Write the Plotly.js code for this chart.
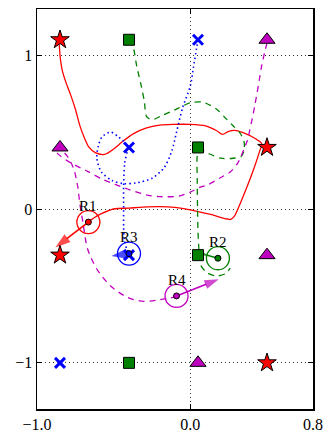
<!DOCTYPE html>
<html>
<head>
<meta charset="utf-8">
<script src="https://cdn.plot.ly/plotly-3.0.1.min.js"></script>
<style>html,body{margin:0;padding:0;background:#fff;}#chart{width:334px;height:441px;}</style>
</head>
<body>
<div id="chart"></div>
<script>
// ---- target markers ----
const starX = [-0.85, -0.85, 0.5, 0.5];
const starY = [1.1, -0.3, 0.4, -1.0];
const squareX = [-0.4, 0.05, 0.05, -0.4];
const squareY = [1.1, 0.4, -0.3, -1.0];
const crossX = [0.05, -0.4, -0.4, -0.85];
const crossY = [1.1, 0.4, -0.3, -1.0];
const triX = [0.5, -0.85, 0.5, 0.05];
const triY = [1.1, 0.4, -0.3, -1.0];

// ---- robot trajectories ----
const redPathX = [-0.855,-0.848,-0.835,-0.81,-0.78,-0.75,-0.72,-0.69,-0.66,-0.62,-0.56,-0.5,-0.44,-0.37,-0.29,-0.2,-0.11,0.0,0.1,0.17,0.21,0.25,0.3,0.36,0.42,0.465,0.45,0.41,0.36,0.31,0.285,0.262,0.24,0.125,0.0,-0.1,-0.2,-0.31,-0.4,-0.5,-0.58,-0.63,-0.665];
const redPathY = [1.07,0.98,0.9,0.82,0.74,0.65,0.54,0.46,0.4,0.366,0.355,0.39,0.44,0.49,0.525,0.545,0.55,0.55,0.54,0.51,0.485,0.505,0.51,0.49,0.46,0.425,0.37,0.25,0.12,0.0,-0.05,-0.068,-0.065,-0.034,-0.005,0.01,0.015,0.012,0.006,0.0,-0.03,-0.058,-0.085];

const bluePathX = [0.05,0.04,0.02,0.0,-0.05,-0.09,-0.12,-0.17,-0.25,-0.35,-0.435,-0.51,-0.58,-0.61,-0.6,-0.575,-0.52,-0.47,-0.435,-0.41,-0.428,-0.435,-0.435,-0.435,-0.43,-0.415,-0.4];
const bluePathY = [1.1,1.04,0.92,0.8,0.66,0.5,0.38,0.27,0.2,0.17,0.165,0.185,0.24,0.33,0.41,0.47,0.5,0.47,0.44,0.4,0.3,0.15,0.0,-0.12,-0.2,-0.26,-0.29];

const greenPathX = [-0.4,-0.37,-0.35,-0.32,-0.3,-0.285,-0.25,-0.18,-0.11,0.0,0.08,0.17,0.23,0.28,0.32,0.35,0.35,0.33,0.28,0.2,0.12,0.07,0.048,0.045,0.047,0.05,0.055,0.056,0.07,0.11,0.17,0.23,0.26];
const greenPathY = [1.1,1.04,0.93,0.8,0.7,0.6,0.58,0.61,0.64,0.69,0.695,0.65,0.59,0.54,0.5,0.44,0.38,0.34,0.33,0.33,0.36,0.385,0.36,0.2,0.0,-0.15,-0.25,-0.31,-0.37,-0.415,-0.435,-0.42,-0.385];

const magentaPathX = [0.5,0.485,0.465,0.45,0.42,0.4,0.385,0.37,0.35,0.31,0.26,0.19,0.12,0.06,0.0,-0.07,-0.2,-0.28,-0.41,-0.565,-0.67,-0.78,-0.86,-0.885,-0.85,-0.8,-0.76,-0.735,-0.72,-0.7,-0.67,-0.61,-0.52,-0.41,-0.305,-0.2,-0.09];
const magentaPathY = [1.08,1.02,0.93,0.84,0.67,0.57,0.5,0.44,0.39,0.3,0.24,0.2,0.16,0.14,0.11,0.085,0.08,0.09,0.13,0.19,0.245,0.3,0.355,0.39,0.39,0.34,0.26,0.15,0.03,-0.09,-0.26,-0.39,-0.5,-0.575,-0.6,-0.59,-0.57];

// ---- robots ----
const robotNames = ['R1', 'R2', 'R3', 'R4'];
const robotX = [-0.665, 0.18, -0.4, -0.09];
const robotY = [-0.085, -0.32, -0.29, -0.565];
const robotTipX = [-0.88, 0.065, -0.515, 0.185];
const robotTipY = [-0.25, -0.288, -0.305, -0.457];

// ---- styles ----
const robotColors = ['#ff0000', '#008000', '#0000ff', '#bf00bf'];
const headSizes = [16, 5, 16, 15];
const robotRadius = 0.075;
const labelOffset = 0.105;
const serif = 'Liberation Serif, Times New Roman, serif';

const traces = [];
function pathTrace(x, y, color, dash, width) {
  return {x: x, y: y, mode: 'lines', type: 'scatter', hoverinfo: 'skip',
          line: {color: color, dash: dash, width: width, shape: 'spline', smoothing: 0.8}};
}
traces.push(pathTrace(redPathX, redPathY, robotColors[0], 'solid', 1.3));
traces.push(pathTrace(greenPathX, greenPathY, robotColors[1], '6px,5px', 1.3));
traces.push(pathTrace(bluePathX, bluePathY, robotColors[2], '1.5px,3px', 1.6));
traces.push(pathTrace(magentaPathX, magentaPathY, robotColors[3], '6px,5px', 1.3));

// heading arrows
for (let i = 0; i < robotNames.length; i++) {
  traces.push({
    x: [robotX[i], robotTipX[i]], y: [robotY[i], robotTipY[i]],
    mode: 'lines+markers', type: 'scatter', hoverinfo: 'skip',
    line: {color: robotColors[i], width: 1.6},
    marker: {symbol: 'arrow', angleref: 'previous', size: [0, headSizes[i]], color: robotColors[i],
             line: {width: 0}}
  });
}

// targets
traces.push({x: crossX, y: crossY, mode: 'markers', type: 'scatter', hoverinfo: 'skip',
  marker: {symbol: 'x-thin', size: 10, color: '#0000ff', line: {color: '#0000ff', width: 3}}});
traces.push({x: squareX, y: squareY, mode: 'markers', type: 'scatter', hoverinfo: 'skip',
  marker: {symbol: 'square', size: 11, color: '#008000', line: {color: '#000', width: 1}}});
traces.push({x: triX, y: triY, mode: 'markers', type: 'scatter', hoverinfo: 'skip',
  marker: {symbol: 'triangle-up', size: 14, color: '#bf00bf', line: {color: '#000', width: 1}}});
traces.push({x: starX, y: starY, mode: 'markers', type: 'scatter', hoverinfo: 'skip',
  marker: {symbol: 'star', size: 14, color: '#ff0000', line: {color: '#000', width: 1}}});

// robot centre dots
traces.push({x: robotX, y: robotY, mode: 'markers', type: 'scatter', hoverinfo: 'skip',
  marker: {symbol: 'circle', size: 6, color: robotColors, line: {color: '#000', width: 1}}});

const shapes = robotNames.map((n, i) => ({
  type: 'circle', xref: 'x', yref: 'y',
  x0: robotX[i] - robotRadius, x1: robotX[i] + robotRadius,
  y0: robotY[i] - robotRadius, y1: robotY[i] + robotRadius,
  line: {color: robotColors[i], width: 1.3}
}));

const annotations = robotNames.map((n, i) => ({
  x: robotX[i], y: robotY[i] + labelOffset, xref: 'x', yref: 'y',
  text: n, showarrow: false, font: {family: serif, size: 15, color: '#000'}
}));

const axisCommon = {
  showline: true, linecolor: '#000', linewidth: 1.5, mirror: 'allticks',
  ticks: 'inside', ticklen: 5, tickwidth: 1, tickcolor: '#000',
  showgrid: true, gridcolor: '#333', griddash: '1px,3px', gridwidth: 1,
  zeroline: false, tickfont: {family: serif, size: 16, color: '#000'}, fixedrange: true
};

const layout = {
  width: 334, height: 441,
  margin: {l: 37, r: 21, t: 9, b: 32},
  paper_bgcolor: '#fff', plot_bgcolor: '#fff',
  showlegend: false,
  xaxis: Object.assign({}, axisCommon, {range: [-1, 0.8], tickvals: [-1, 0, 0.8], ticktext: ['\u22121.0', '0.0', '0.8']}),
  yaxis: Object.assign({}, axisCommon, {range: [-1.3, 1.3], tickvals: [-1, 0, 1], ticktext: ['\u22121', '0', '1']}),
  shapes: shapes,
  annotations: annotations
};

Plotly.newPlot('chart', traces, layout, {displayModeBar: false, staticPlot: true});
</script>
</body>
</html>
